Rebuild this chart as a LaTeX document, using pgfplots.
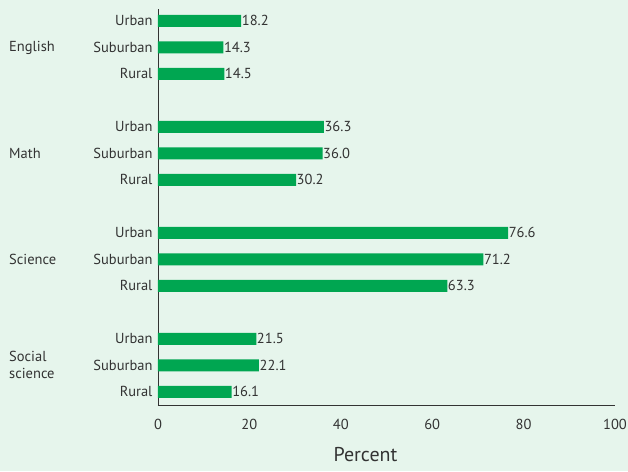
\documentclass[border=0pt]{standalone}
\usepackage{pgfplots}
\pgfplotsset{compat=1.18}
\usepackage{fontspec}
\setmainfont{PT Sans}
\definecolor{bg}{HTML}{E6F5EC}
\definecolor{bar}{HTML}{00A651}
\definecolor{txt}{HTML}{333333}
\begin{document}
\begin{tikzpicture}[x=1pt,y=1pt]
\fill[bg] (-158,-66) rectangle (470,405);
\path[use as bounding box] (-158,-66) rectangle (470,405);
\begin{axis}[
  at={(0,0)}, anchor=south west,
  scale only axis, width=457pt, height=396pt,
  xmin=0, xmax=100, ymin=-0.5, ymax=14.45,
  axis x line*=bottom, axis y line*=left,
  axis line style={txt, line width=0.9pt, -},
  xtick={0,20,40,60,80,100},
  ytick={0,1,2,4,5,6,8,9,10,12,13,14},
  yticklabels={Rural,Suburban,Urban,Rural,Suburban,Urban,Rural,Suburban,Urban,Rural,Suburban,Urban},
  major tick length=0pt,
  tick label style={font=\fontsize{14.5}{16}\selectfont, text=txt},
  /pgf/number format/assume math mode=true,
  xticklabel style={yshift=-11pt},
  yticklabel style={xshift=-2pt},
  xlabel={Percent},
  xlabel style={font=\fontsize{20}{22}\selectfont, text=txt, yshift=-13pt, xshift=-21pt, inner sep=1pt},
  clip=false,
  point meta=x,
  nodes near coords={\pgfmathprintnumber[fixed,fixed zerofill,precision=1]{\pgfplotspointmeta}},
  every node near coord/.append style={font=\fontsize{14.5}{16}\selectfont, text=txt, anchor=west, xshift=-1.5pt, inner sep=2pt},
]
\addplot[xbar, bar width=12pt, fill=bar, draw=none] coordinates {
  (16.1,0) (22.1,1) (21.5,2)
  (63.3,4) (71.2,5) (76.6,6)
  (30.2,8) (36.0,9) (36.3,10)
  (14.5,12) (14.3,13) (18.2,14)
};
\node[anchor=west, font=\fontsize{14.5}{17}\selectfont, text=txt, inner sep=0pt] at ([xshift=-149pt]axis cs:0,13) {English};
\node[anchor=west, font=\fontsize{14.5}{17}\selectfont, text=txt, inner sep=0pt] at ([xshift=-149pt]axis cs:0,9) {Math};
\node[anchor=west, font=\fontsize{14.5}{17}\selectfont, text=txt, inner sep=0pt] at ([xshift=-149pt]axis cs:0,5) {Science};
\node[anchor=west, font=\fontsize{14.5}{17}\selectfont, text=txt, inner sep=0pt, align=left] at ([xshift=-149pt]axis cs:0,1) {Social\\science};
\end{axis}
\end{tikzpicture}
\end{document}
